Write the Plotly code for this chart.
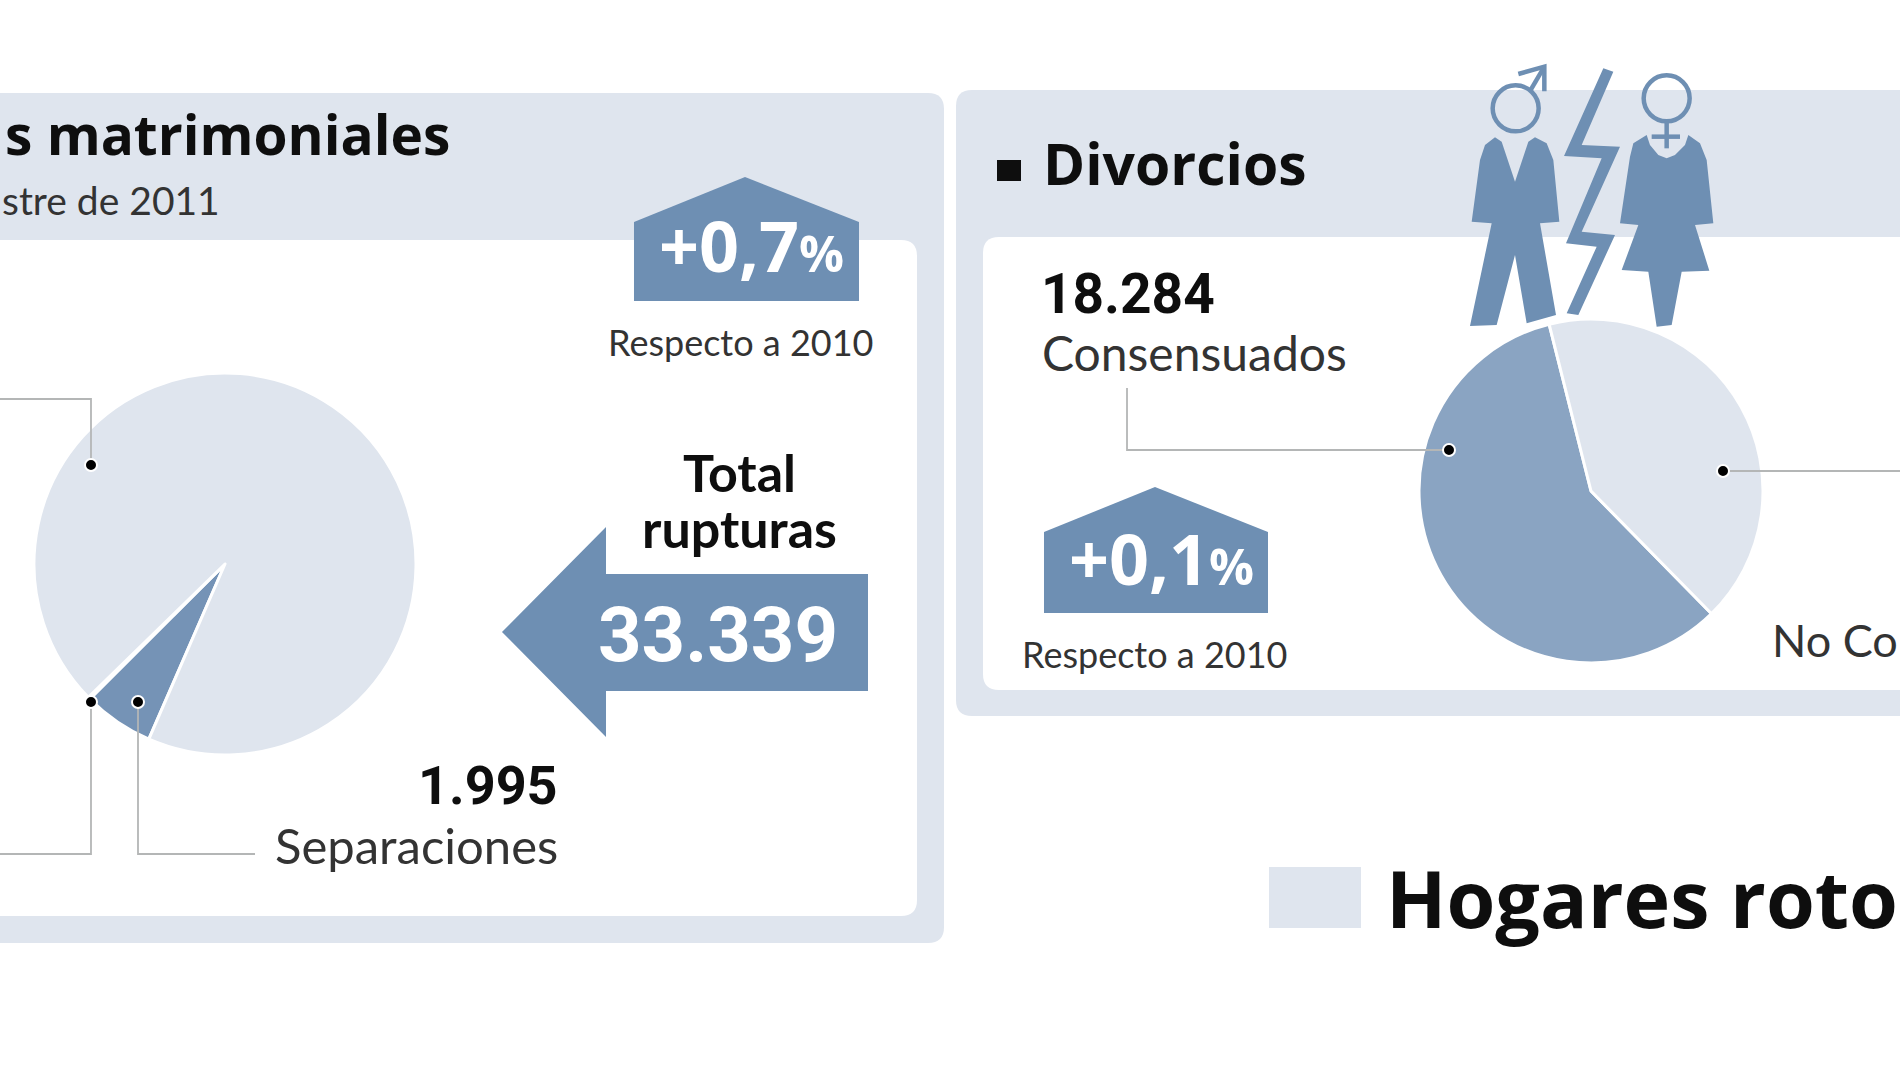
import plotly.graph_objects as go

W, H = 1900, 1069

# --- data ---
ruptura_labels = ["Separaciones", "Otras", "Divorcios"]
ruptura_values = [1995, 60, 31284]
divorcio_labels = ["Consensuados", "No Consensuados"]
divorcio_values = [18284, 13000]

LIGHT = "#DFE5EE"
BLUE = "#6E8FB3"
PIE_BLUE = "#8AA4C2"
WEDGE = "#7593B6"
DARK = "#0E0E0E"
GREY = "#333333"
LEAD = "#B4B6B6"
BOLD = "Open Sans"
DIGIT = "Roboto"
NARROW = "Lato"


def fx(x):
    return x / W


def fy(y):
    return 1 - y / H


def poly(pts, close=True):
    d = "M" + " L".join(f"{fx(x):.5f},{fy(y):.5f}" for x, y in pts)
    return d + (" Z" if close else "")


def round_rect(x0, y0, x1, y1, r):
    P = lambda x, y: f"{fx(x):.5f},{fy(y):.5f}"
    return (f"M{P(x0+r,y0)} L{P(x1-r,y0)} Q{P(x1,y0)} {P(x1,y0+r)} L{P(x1,y1-r)} Q{P(x1,y1)} {P(x1-r,y1)} "
            f"L{P(x0+r,y1)} Q{P(x0,y1)} {P(x0,y1-r)} L{P(x0,y0+r)} Q{P(x0,y0)} {P(x0+r,y0)} Z")


shapes = []


def fill(path, color, layer="above"):
    shapes.append(dict(type="path", path=path, xref="paper", yref="paper", fillcolor=color,
                       line=dict(width=0), layer=layer))


def stroke(pts, color=LEAD, width=1.8):
    shapes.append(dict(type="path", path=poly(pts, False), xref="paper", yref="paper",
                       fillcolor="rgba(0,0,0,0)", line=dict(color=color, width=width), layer="above"))


def circle(cx, cy, r, fillc, linec, lw):
    shapes.append(dict(type="circle", xref="paper", yref="paper", x0=fx(cx - r), x1=fx(cx + r),
                       y0=fy(cy + r), y1=fy(cy - r), fillcolor=fillc,
                       line=dict(color=linec, width=lw), layer="above"))


# panels
fill(round_rect(-40, 93, 944, 943, 16), LIGHT, "below")
fill(round_rect(-40, 240, 917, 916, 16), "#FFFFFF", "below")
fill(round_rect(956, 90, 1960, 716, 16), LIGHT, "below")
fill(round_rect(983, 237, 1960, 690, 16), "#FFFFFF", "below")

# badges and arrow
fill(poly([(634, 222), (745, 177), (859, 222), (859, 301), (634, 301)]), BLUE, "below")
fill(poly([(1044, 532), (1155, 487), (1268, 532), (1268, 613), (1044, 613)]), BLUE, "below")
fill(poly([(502, 632), (606, 527), (606, 574), (868, 574), (868, 691), (606, 691), (606, 737)]), BLUE, "below")

# bullet and legend swatch
fill(poly([(997, 160), (1021, 160), (1021, 181), (997, 181)]), DARK, "below")
fill(poly([(1269, 867), (1361, 867), (1361, 928), (1269, 928)]), LIGHT, "below")

# leader lines
stroke([(-5, 399), (91, 399), (91, 465)])
stroke([(-5, 854), (91, 854), (91, 702)])
stroke([(255, 854), (138, 854), (138, 702)])
stroke([(1127, 388), (1127, 450), (1449, 450)])
stroke([(1723, 471), (1905, 471)])
for cx, cy in [(91, 465), (91, 702), (138, 702), (1449, 450), (1723, 471)]:
    circle(cx, cy, 6, "#000000", "#FFFFFF", 2)


# icon, traced in a 3x crop whose origin is at (1450, 50)
def Z(pts):
    return [(1450 + x / 3, 50 + y / 3) for x, y in pts]


man = [(65, 515), (90, 330), (105, 285), (135, 262), (155, 275), (195, 395), (235, 275), (255, 262), (290, 280),
       (310, 330), (328, 515), (270, 520), (318, 795), (230, 820), (195, 615), (140, 825), (60, 828), (125, 520)]
bolt = [(460, 55), (490, 65), (395, 285), (510, 290), (395, 545), (495, 555), (385, 795), (350, 790), (440, 590),
        (348, 580), (455, 325), (342, 318)]
woman = [(510, 520), (540, 320), (550, 280), (590, 255), (600, 285), (625, 315), (650, 325), (675, 315), (705, 285),
         (715, 255), (750, 280), (770, 330), (790, 520), (735, 525), (778, 662), (695, 665), (665, 825), (620, 830),
         (595, 665), (515, 660), (565, 525)]
for part in (man, bolt, woman):
    fill(poly(Z(part)), BLUE)
stroke(Z([(243, 118), (280, 55)]), BLUE, 4.5)
stroke(Z([(205, 72), (283, 50), (283, 124)]), BLUE, 4.5)
circle(1450 + 197 / 3, 50 + 175 / 3, 23, "rgba(0,0,0,0)", BLUE, 4.5)
circle(1450 + 650 / 3, 50 + 145 / 3, 23, "rgba(0,0,0,0)", BLUE, 4.5)
stroke(Z([(650, 215), (650, 295)]), BLUE, 4.5)
stroke(Z([(605, 260), (690, 260)]), BLUE, 4.5)

annotations = []


def text(x, y, s, font, size, color=DARK, weight=400, anchor="left"):
    annotations.append(dict(x=fx(x), y=fy(y), xref="paper", yref="paper", text=s, showarrow=False,
                            xanchor=anchor, yanchor="middle", align=anchor, borderpad=0,
                            font=dict(family=font, size=size, color=color, weight=weight)))


text(451, 134, "s matrimoniales", BOLD, 55, weight=700, anchor="right")
text(221, 200, "stre de 2011", NARROW, 39, GREY, anchor="right")
text(751, 245, '+0,7<span style="font-size:50px">%</span>', BOLD, 70, "#FFFFFF", 700, "center")
text(740, 342, "Respecto a 2010", NARROW, 36, GREY, anchor="center")
text(739, 472, "Total", NARROW, 52, DARK, 700, "center")
text(739, 528, "rupturas", NARROW, 52, DARK, 700, "center")
text(718, 635, "33.339", DIGIT, 76, "#FFFFFF", 700, "center")
text(559, 785, "1.995", DIGIT, 54, DARK, 700, "right")
text(559, 845, "Separaciones", NARROW, 49, GREY, anchor="right")

text(1042, 163, "Divorcios", BOLD, 57, DARK, 700)
text(1040, 294, "18.284", DIGIT, 55, DARK, 700)
text(1041, 352, "Consensuados", NARROW, 48, GREY)
text(1161, 558, '+0,1<span style="font-size:50px">%</span>', BOLD, 70, "#FFFFFF", 700, "center")
text(1154, 654, "Respecto a 2010", NARROW, 36, GREY, anchor="center")
text(1771, 640, "No Co", NARROW, 45, GREY)
text(1385, 897, "Hogares roto", BOLD, 79, DARK, 700)


def domain(cx, cy, r):
    return dict(x=[fx(cx - r), fx(cx + r)], y=[fy(cy + r), fy(cy - r)])


fig = go.Figure()
fig.add_trace(go.Pie(labels=ruptura_labels, values=ruptura_values, sort=False, direction="clockwise",
                     rotation=203.5, textinfo="none", domain=domain(225, 564, 191), hoverinfo="label+value",
                     marker=dict(colors=[WEDGE, "#FFFFFF", LIGHT], line=dict(color="#FFFFFF", width=3))))
fig.add_trace(go.Pie(labels=divorcio_labels, values=divorcio_values, sort=False, direction="clockwise",
                     rotation=135.5, textinfo="none", domain=domain(1591, 491, 172), hoverinfo="label+value",
                     marker=dict(colors=[PIE_BLUE, LIGHT], line=dict(color="#FFFFFF", width=3))))
fig.update_layout(width=W, height=H, margin=dict(l=0, r=0, t=0, b=0, pad=0), showlegend=False,
                  paper_bgcolor="#FFFFFF", plot_bgcolor="#FFFFFF", shapes=shapes, annotations=annotations)
fig.write_html("out.html", config=dict(displayModeBar=False),
               post_script="document.body.style.margin='0';document.body.style.overflow='hidden';")
